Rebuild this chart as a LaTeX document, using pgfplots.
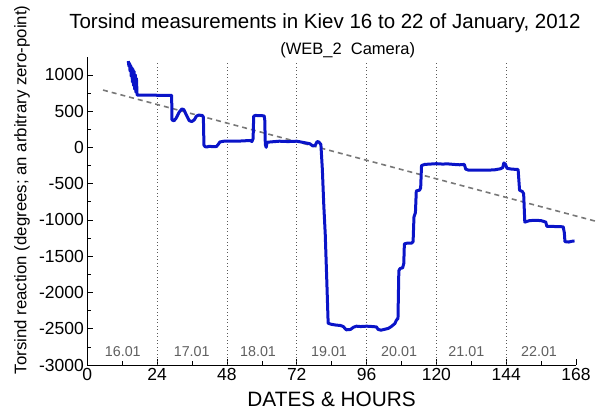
\documentclass[border=0pt]{standalone}
\usepackage{pgfplots}
\pgfplotsset{compat=1.18}
\usepackage{fontspec}
\setmainfont{Liberation Sans}
\definecolor{torblue}{RGB}{10,20,200}
\definecolor{trendgray}{RGB}{120,120,120}
\definecolor{dategray}{RGB}{95,95,95}

\begin{document}
\begin{tikzpicture}
\useasboundingbox (-87.3pt,-47pt) rectangle (510.7pt,365pt);
\begin{axis}[
    at={(0,0)}, anchor=south west,
    scale only axis, width=488.7pt, height=308.3pt,
    xmin=0, xmax=168, ymin=-3000, ymax=1250,
    axis x line=bottom, axis y line=left,
    axis line style={-, line width=0.8pt},
    xtick={0,24,...,168}, ytick={-3000,-2500,...,1000},
    minor x tick num=1, minor y tick num=1,
    tick align=inside, major tick length=6pt, minor tick length=4pt,
    tick style={black, line width=0.6pt},
    ticklabel style={font=\fontsize{17.5}{20}\selectfont},
    /pgf/number format/assume math mode=true,
    /pgf/number format/1000 sep={},
    xlabel={DATES \& HOURS},
    xlabel style={font=\fontsize{20.8}{24}\selectfont, at={(axis description cs:0.5,0)}, anchor=base, yshift=-41.5pt},
    ylabel={Torsind reaction (degrees; an arbitrary zero-point)},
    ylabel style={font=\fontsize{16.8}{20}\selectfont, at={(axis description cs:-0.1336,0.568)}, anchor=center},
    clip=false,
]
\pgfplotsinvokeforeach{24,48,...,144}{
  \addplot[gray!70!black, line width=0.8pt, dash pattern=on 0.9pt off 2.6pt] coordinates {(#1,-3000) (#1,1170)};
}
\addplot[trendgray, line width=1.6pt, dash pattern=on 5pt off 4pt] coordinates {(5.4,790) (175.4,-1025)};
\addplot[torblue, line width=3pt, line join=round] coordinates {
(14.1,1190) (14.3,1120) (14.5,1160) (14.7,1050) (14.9,1130) (15.1,980) (15.3,1100)
(15.5,900) (15.7,1080) (15.9,850) (16.1,1050) (16.3,800) (16.5,1000) (16.7,760)
(16.9,950) (17.1,730) (17.2,720) (20,720) (25,718) (29.0,718)
(29.1,380) (29.8,366) (30.5,400) (31.5,480) (32.5,530) (33.2,520) (34,450) (35,370)
(35.9,355) (36.8,380) (37.5,430) (38.3,445) (39.5,440) (39.9,420)
(40.1,30) (40.5,10) (41,5) (42,15) (43,10) (44.4,12) (45,40) (45.6,75) (47,85)
(50,85) (53,88) (56.0,95) (56.6,80) (57.0,120) (57.2,430) (57.8,440) (60.8,435)
(61.0,380) (61.2,40) (61.5,0) (61.8,70) (63,75) (66,85) (69,80) (72,85) (74,70)
(76.5,50) (77.5,20) (78.3,25) (79,80) (79.6,75) (80.3,40)
(80.8,-300) (81.3,-800) (81.8,-1200) (82.3,-1800) (82.8,-2425)
(84,-2440) (85.5,-2450) (87,-2455) (88,-2470) (89,-2515) (90.5,-2510) (91.5,-2480)
(92.5,-2465) (94,-2470) (96,-2465) (98,-2470) (99.4,-2475) (100,-2510) (101,-2520)
(102.5,-2505) (103.5,-2495) (104.5,-2470) (105.7,-2430) (106.3,-2380) (106.8,-2360)
(107.1,-1700) (107.5,-1670) (108.4,-1660) (108.8,-1600) (109.0,-1330) (110,-1320)
(111.5,-1320) (112,-1300) (112.3,-960) (112.8,-900) (113.1,-600) (114.2,-590)
(114.6,-560) (114.9,-250) (116,-235) (118,-230) (120,-225) (122,-230) (124,-228)
(126,-235) (128,-240) (129.6,-235) (130.1,-300) (131,-313) (134,-315) (137,-315)
(140,-310) (142,-295) (142.8,-280) (143.2,-215) (143.7,-230) (144.3,-290) (146,-300)
(148.1,-305) (148.6,-590) (149.6,-610) (150,-640) (150.4,-1030) (152,-1010)
(154,-1005) (156,-1010) (157.6,-1030) (158.0,-1090) (160,-1090) (163.6,-1095)
(164,-1180) (164.2,-1300) (165.5,-1305) (166.5,-1295) (167.5,-1290)
};
\node[anchor=base, font=\fontsize{20.5}{24}\selectfont] at (axis cs:81.7,1644) {Torsind measurements in Kiev 16 to 22 of January, 2012};
\node[anchor=base, font=\fontsize{16.5}{20}\selectfont] at (axis cs:89.5,1286) {(WEB\_2\ \ Camera)};
\node[text=dategray, font=\fontsize{14.3}{16}\selectfont] at (axis cs:12.2,-2817) {16.01};
\node[text=dategray, font=\fontsize{14.3}{16}\selectfont] at (axis cs:35.9,-2817) {17.01};
\node[text=dategray, font=\fontsize{14.3}{16}\selectfont] at (axis cs:58.7,-2817) {18.01};
\node[text=dategray, font=\fontsize{14.3}{16}\selectfont] at (axis cs:83.1,-2817) {19.01};
\node[text=dategray, font=\fontsize{14.3}{16}\selectfont] at (axis cs:107.2,-2817) {20.01};
\node[text=dategray, font=\fontsize{14.3}{16}\selectfont] at (axis cs:130.3,-2817) {21.01};
\node[text=dategray, font=\fontsize{14.3}{16}\selectfont] at (axis cs:155.3,-2817) {22.01};
\end{axis}
\end{tikzpicture}
\end{document}
